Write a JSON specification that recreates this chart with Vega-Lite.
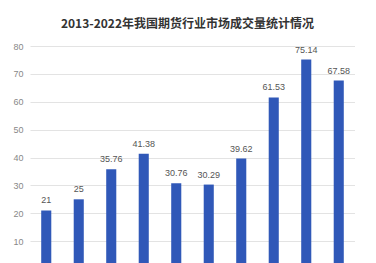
{
  "$schema": "https://vega.github.io/schema/vega-lite/v6.json",
  "autosize": {"type": "none"},
  "padding": {"left": 30, "top": 46, "right": 0, "bottom": 0},
  "width": 325,
  "height": 223,
  "background": "white",
  "title": {
    "text": "2013-2022年我国期货行业市场成交量统计情况",
    "font": "Noto Sans CJK SC",
    "fontSize": 12,
    "fontWeight": "bold",
    "color": "#333333",
    "anchor": "middle",
    "dx": -5,
    "offset": 11
  },
  "config": {"view": {"stroke": null}},
  "data": {
    "values": [
      {"year": "2013", "v": 21, "label": "21"},
      {"year": "2014", "v": 25, "label": "25"},
      {"year": "2015", "v": 35.76, "label": "35.76"},
      {"year": "2016", "v": 41.38, "label": "41.38"},
      {"year": "2017", "v": 30.76, "label": "30.76"},
      {"year": "2018", "v": 30.29, "label": "30.29"},
      {"year": "2019", "v": 39.62, "label": "39.62"},
      {"year": "2020", "v": 61.53, "label": "61.53"},
      {"year": "2021", "v": 75.14, "label": "75.14"},
      {"year": "2022", "v": 67.58, "label": "67.58"}
    ]
  },
  "encoding": {
    "x": {"field": "year", "type": "nominal", "sort": null, "axis": null,
      "scale": {"paddingInner": 0.69, "paddingOuter": 0.345}},
    "y": {"field": "v", "type": "quantitative",
      "scale": {"domain": [0, 80]},
      "axis": {"values": [10, 20, 30, 40, 50, 60, 70, 80], "title": null, "domain": false, "ticks": false,
        "labelPadding": 7, "labelFont": "Liberation Sans", "labelFontSize": 9, "labelColor": "#888888",
        "gridColor": "#e3e3e3", "gridWidth": 1}}
  },
  "layer": [
    {"mark": {"type": "bar", "color": "#3058b8"}},
    {"mark": {"type": "text", "baseline": "bottom", "dy": -5, "font": "Liberation Sans", "fontSize": 9, "color": "#555555"},
      "encoding": {"text": {"field": "label"}}}
  ]
}
